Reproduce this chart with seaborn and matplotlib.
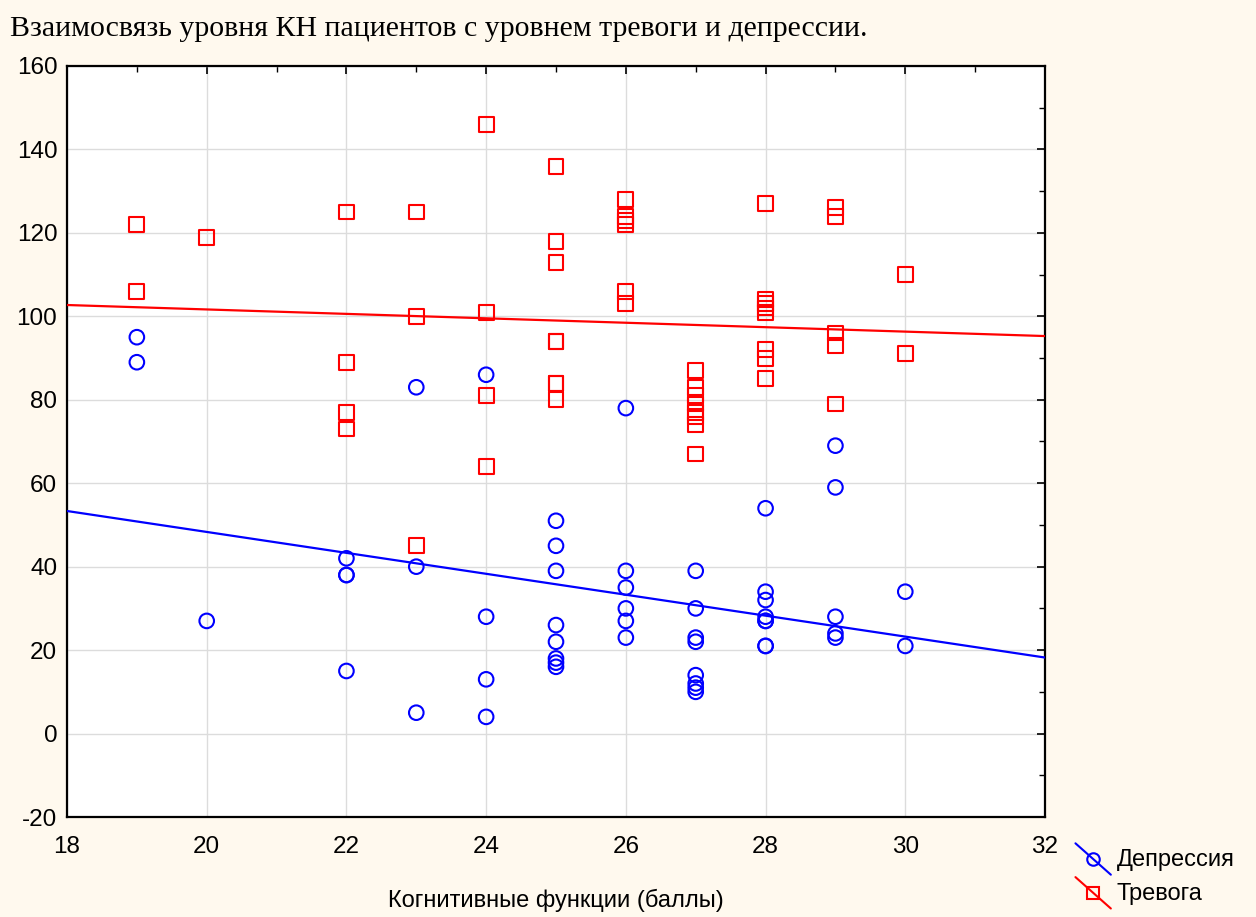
import numpy as np
import pandas as pd
import matplotlib
matplotlib.use("Agg")
import matplotlib.pyplot as plt
import seaborn as sns
from matplotlib.legend_handler import HandlerBase
from matplotlib.lines import Line2D
from matplotlib.ticker import MultipleLocator

# ---- data ----
cognitive = [19, 19,
             20,
             22, 22, 22, 22,
             23, 23, 23,
             24, 24, 24, 24,
             25, 25, 25, 25, 25, 25, 25, 25,
             26, 26, 26, 26, 26, 26,
             27, 27, 27, 27, 27, 27, 27, 27,
             28, 28, 28, 28, 28, 28, 28, 28,
             29, 29, 29, 29, 29,
             30, 30]
depression = [95, 89,
              27,
              42, 38, 38, 15,
              83, 40, 5,
              86, 28, 13, 4,
              51, 45, 39, 26, 22, 18, 17, 16,
              78, 39, 35, 30, 27, 23,
              39, 30, 23, 22, 14, 12, 11, 10,
              54, 34, 32, 28, 27, 27, 21, 21,
              69, 59, 28, 24, 23,
              34, 21]
anxiety = [122, 106,
           119,
           125, 89, 77, 73,
           125, 100, 45,
           146, 101, 81, 64,
           136, 118, 113, 94, 94, 84, 84, 80,
           128, 124, 123, 122, 106, 103,
           87, 83, 81, 79, 77, 76, 74, 67,
           127, 104, 103, 102, 101, 92, 90, 85,
           126, 124, 96, 93, 79,
           110, 91]

series_names = ["Депрессия", "Тревога"]
x_ticks = [18, 20, 22, 24, 26, 28, 30, 32]
y_ticks = [-20, 0, 20, 40, 60, 80, 100, 120, 140, 160]

title = "Взаимосвязь уровня КН пациентов с уровнем тревоги и депрессии."
xlabel = "Когнитивные функции (баллы)"

df = pd.DataFrame({"x": cognitive, "dep": depression, "anx": anxiety})

sns.set_style("white")
plt.rcParams["font.family"] = ["Liberation Sans", "DejaVu Sans"]
plt.rcParams["axes.unicode_minus"] = False
plt.rcParams["text.color"] = "black"
plt.rcParams["axes.labelcolor"] = "black"
plt.rcParams["xtick.color"] = "black"
plt.rcParams["ytick.color"] = "black"

BLUE = "#0000FF"
RED = "#FF0000"
BG = "#FFF9EE"

fig = plt.figure(figsize=(12.56, 9.17), dpi=100, facecolor=BG)
ax = fig.add_axes([67/1256, 1-817/917, (1045-67)/1256, (817-66)/917])
ax.set_facecolor("white")

ax.set_xlim(18, 32)
ax.set_ylim(-20, 160)
ax.set_xticks(x_ticks)
ax.set_yticks(y_ticks)
ax.xaxis.set_minor_locator(MultipleLocator(1))
ax.yaxis.set_minor_locator(MultipleLocator(10))
ax.grid(True, which="major", color="#DCDCDC", linewidth=1.0)
ax.set_axisbelow(True)

sns.scatterplot(data=df, x="x", y="dep", marker="o", s=110, color=BLUE,
                facecolor="none", edgecolor=BLUE, linewidth=1.5, ax=ax, zorder=3)
sns.scatterplot(data=df, x="x", y="anx", marker="s", s=115, color=RED,
                facecolor="none", edgecolor=RED, linewidth=1.5, ax=ax, zorder=3)
sns.regplot(data=df, x="x", y="dep", scatter=False, ci=None, truncate=False,
            color=BLUE, line_kws={"linewidth": 1.6, "zorder": 4}, ax=ax)
sns.regplot(data=df, x="x", y="anx", scatter=False, ci=None, truncate=False,
            color=RED, line_kws={"linewidth": 1.6, "zorder": 4}, ax=ax)
ax.set_xlim(18, 32)
ax.set_ylim(-20, 160)

for sp in ax.spines.values():
    sp.set_visible(True)
    sp.set_color("black")
    sp.set_linewidth(1.6)

ax.tick_params(axis="both", which="both", direction="in", top=True, right=True,
               colors="black", labelsize=17.5)
ax.tick_params(which="major", length=6, width=1.2)
ax.tick_params(axis="y", which="major", pad=7)
ax.tick_params(axis="x", which="major", pad=14)
ax.tick_params(which="minor", length=4, width=1.0)

ax.set_xlabel(xlabel, fontsize=17, labelpad=22, color="black")
ax.set_ylabel("")

fig.text(10/1256, 1-29/917, title, fontsize=21.5, va="center", ha="left",
         color="black", family=["Liberation Serif", "DejaVu Serif"])


class DiagHandler(HandlerBase):
    def create_artists(self, legend, orig_handle, xdescent, ydescent, width,
                       height, fontsize, trans):
        c = orig_handle.get_color()
        x0 = -xdescent
        y0 = -ydescent
        ln = Line2D([x0, x0 + width], [y0 + height * 1.4, y0 - height * 0.5],
                    color=c, lw=1.5, transform=trans)
        mk = Line2D([x0 + width / 2], [y0 + height * 0.45],
                    marker=orig_handle.get_marker(), markersize=9,
                    markerfacecolor="none", markeredgecolor=c,
                    markeredgewidth=1.5, linestyle="none", transform=trans)
        return [ln, mk]


handles = [Line2D([], [], color=BLUE, marker="o"),
           Line2D([], [], color=RED, marker="s")]
leg = fig.legend(handles, series_names, handler_map={Line2D: DiagHandler()},
                 loc="upper left", bbox_to_anchor=(1066/1256, 1-840/917),
                 frameon=False, fontsize=17, handlelength=1.5, handletextpad=0.25,
                 labelspacing=0.5, borderaxespad=0)
for t in leg.get_texts():
    t.set_color("black")

fig.savefig("out.png", dpi=100, facecolor=BG)
